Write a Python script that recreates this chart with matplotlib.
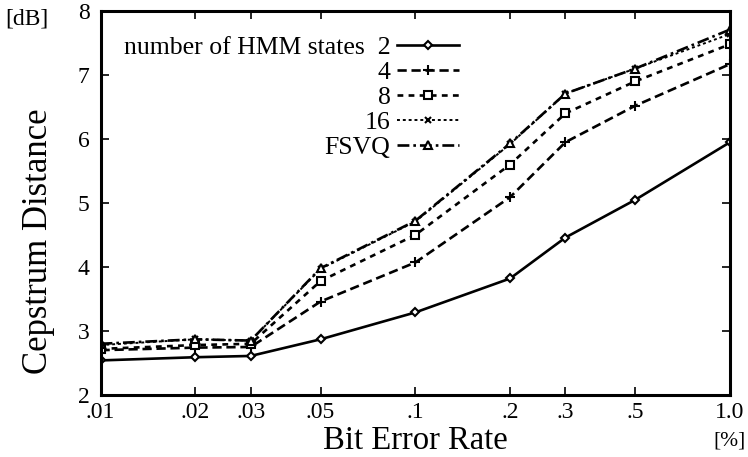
import matplotlib.pyplot as plt
from matplotlib.ticker import FixedLocator, NullLocator

plt.rcParams['font.family'] = ['Liberation Serif', 'DejaVu Serif']

ber = [0.01, 0.02, 0.03, 0.05, 0.1, 0.2, 0.3, 0.5, 1.0]
ber_labels = ['.01', '.02', '.03', '.05', '.1', '.2', '.3', '.5', '1.0']

hmm2 = [2.54, 2.59, 2.61, 2.87, 3.29, 3.82, 4.46, 5.05, 5.95]
hmm4 = [2.70, 2.74, 2.75, 3.46, 4.07, 5.09, 5.95, 6.52, 7.17]
hmm8 = [2.72, 2.78, 2.80, 3.78, 4.50, 5.60, 6.40, 6.90, 7.48]
hmm16 = [2.78, 2.87, 2.85, 3.97, 4.71, 5.92, 6.71, 7.10, 7.64]
fsvq = [2.80, 2.87, 2.85, 3.98, 4.72, 5.93, 6.71, 7.10, 7.71]

fig = plt.figure(figsize=(7.48, 4.57), dpi=100)
ax = fig.add_axes([0.1344, 0.1357, 0.8416, 0.8403])

kw = dict(color='black', lw=1.9, mfc='white', mec='black', mew=1.5)
ax.plot(ber, hmm2, ls='-', marker='D', ms=4, label='number of HMM states  2', **kw)
ax.plot(ber, hmm4, ls=(0, (3.5, 1.8)), marker='+', ms=7, label='4', **kw)
ax.plot(ber, hmm8, ls=(0, (2.2, 2.0)), marker='s', ms=6, label='8', **kw)
ax.plot(ber, hmm16, ls=(0, (1.5, 1.5)), marker='x', ms=5, label='16', **{**kw, 'lw': 1.4})
ax.plot(ber, fsvq, ls=(0, (4.5, 1.5, 1, 1.5)), marker='^', ms=6, label='FSVQ', **kw)

ax.set_xscale('log')
ax.set_xlim(0.01, 1.0)
ax.set_ylim(2, 8)
ax.xaxis.set_major_locator(FixedLocator(ber))
ax.xaxis.set_minor_locator(NullLocator())
ax.set_xticklabels(ber_labels)
ax.set_yticks(range(2, 9))
ax.tick_params(direction='in', length=6, width=1.2, top=True, right=True,
               labelsize=17)
ax.tick_params(axis='y', pad=8)
ax.tick_params(axis='x', pad=5)
for s in ax.spines.values():
    s.set_linewidth(2.2)

ax.set_ylabel('Cepstrum Distance', fontsize=25)
ax.yaxis.set_label_coords(-0.073, 0.40)
ax.set_xlabel('Bit Error Rate', fontsize=23.5, labelpad=1.5)
fig.text(0.007, 0.958, '[dB]', fontsize=17, ha='left', va='center')
fig.text(0.997, 0.034, '[%]', fontsize=15.5, ha='right', va='center')

ax.legend(loc='upper left', bbox_to_anchor=(0.037, 0.935), frameon=False,
          markerfirst=False, fontsize=18.5, handlelength=2.4, handletextpad=0.25,
          labelspacing=0.08, borderpad=0, borderaxespad=0)

fig.savefig('out.png', dpi=100)
